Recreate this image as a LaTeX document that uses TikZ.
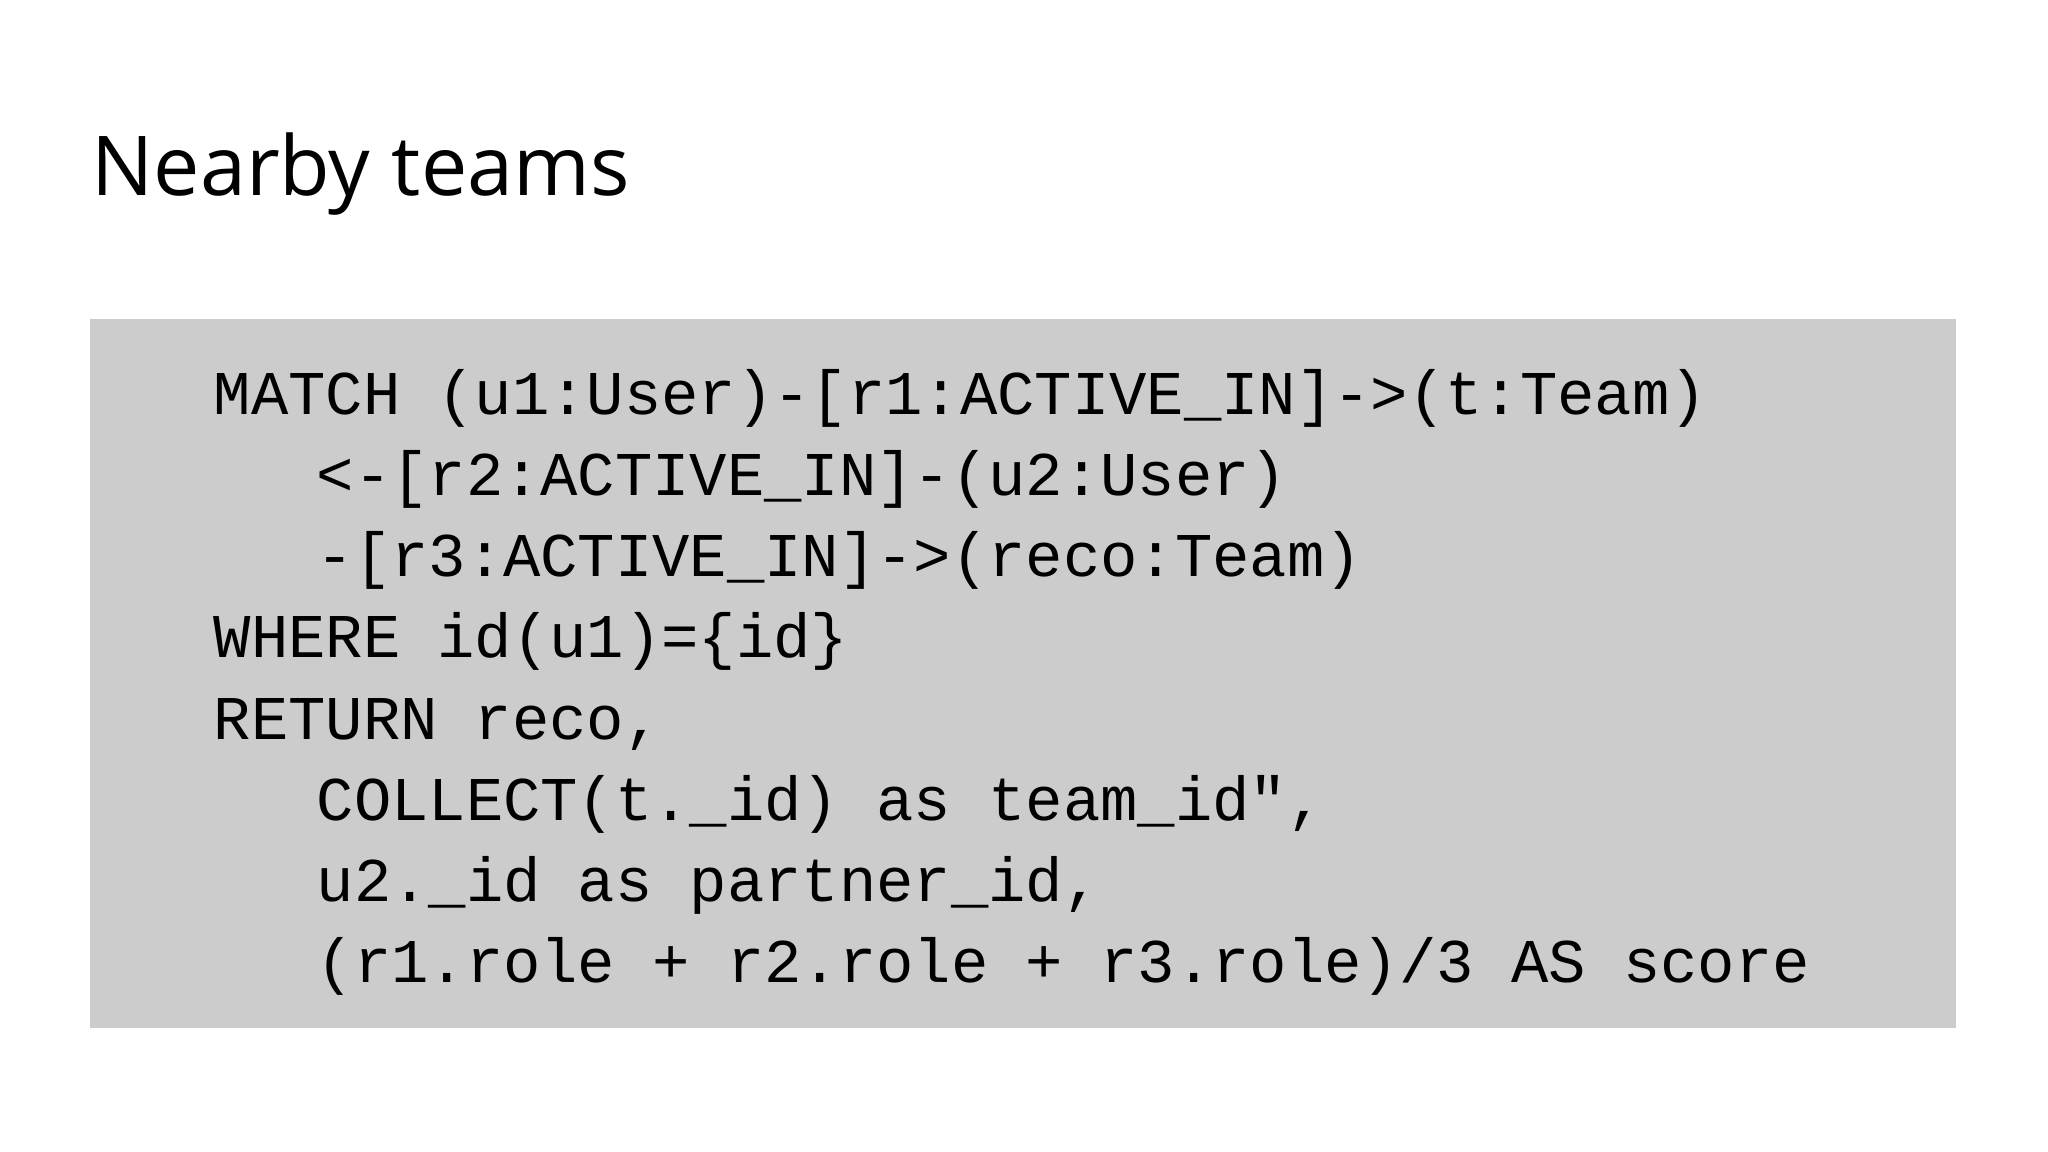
\documentclass[tikz,border=0pt]{standalone}
\usepackage{fontspec}
\setmainfont{Open Sans}
\newfontfamily\codefont{Liberation Mono}
\definecolor{boxgray}{HTML}{CCCCCC}
\begin{document}
\begin{tikzpicture}[x=1cm,y=1cm,
  code/.style={anchor=base west,inner sep=0pt,font=\codefont\fontsize{17.7pt}{20pt}\selectfont,text=black}]
\useasboundingbox[fill=white] (0,0) rectangle (20.48,-11.52);
\node[anchor=base west,inner sep=0pt,font=\fontsize{23.5pt}{28pt}\selectfont] (title) at (0.91,-1.96) {Nearby teams};
\fill[boxgray] (0.90,-3.19) rectangle (19.56,-10.28);
\node[code] (l1) at (2.13,-4.15) {MATCH (u1:User)-[r1:ACTIVE\_IN]->(t:Team)};
\node[code] (l2) at (3.16,-4.96) {<-[r2:ACTIVE\_IN]-(u2:User)};
\node[code] (l3) at (3.16,-5.77) {-[r3:ACTIVE\_IN]->(reco:Team)};
\node[code] (l4) at (2.13,-6.58) {WHERE id(u1)=\{id\}};
\node[code] (l5) at (2.13,-7.39) {RETURN reco,};
\node[code] (l6) at (3.16,-8.20) {COLLECT(t.\_id) as team\_id",};
\node[code] (l7) at (3.16,-9.01) {u2.\_id as partner\_id,};
\node[code] (l8) at (3.16,-9.82) {(r1.role + r2.role + r3.role)/3 AS score};
\end{tikzpicture}
\end{document}
